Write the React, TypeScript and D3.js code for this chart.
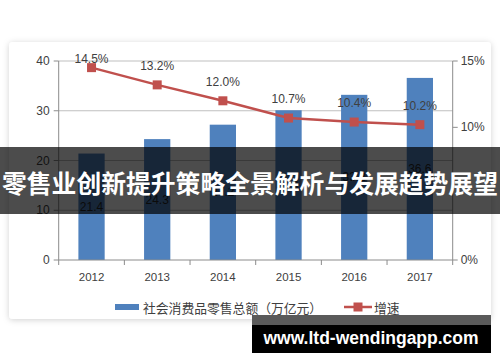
import React from 'react';
import * as d3 from 'd3';

// chart data
const years = ['2012', '2013', '2014', '2015', '2016', '2017'];
const salesTotal = [21.4, 24.3, 27.2, 30.1, 33.2, 36.6]; // 万亿元
const growthRate = [14.5, 13.2, 12.0, 10.7, 10.4, 10.2]; // %
const leftTicks = [0, 10, 20, 30, 40];
const rightTicks = [0, 10, 15];

const barLegend = '社会消费品零售总额（万亿元）';
const lineLegend = '增速';
const bannerTitle = '零售业创新提升策略全景解析与发展趋势展望';
const watermark = 'www.ltd-wendingapp.com';

const W = 500;
const H = 362;
const plot = { left: 58.7, right: 452.7, top: 61, bottom: 260 };

const BAR = '#4f81bd';
const LINE = '#c0504d';
const TEXT = '#404040';
const NUM_FONT = '"Liberation Sans", Arial, sans-serif';
const CJK_FONT = '"Noto Sans CJK SC", sans-serif';

export default function App() {
  const x = d3.scaleBand<string>()
    .domain(years)
    .range([plot.left, plot.right])
    .paddingInner(0.6)
    .paddingOuter(0.3);
  const step = x.step();

  const yL = d3.scaleLinear().domain([0, 40]).range([plot.bottom, plot.top]);
  const yR = d3.scaleLinear().domain([0, 15]).range([plot.bottom, plot.top]);

  const cx = (d: string) => (x(d) as number) + x.bandwidth() / 2;

  const linePath = d3.line<number>()
    .x((_, i) => cx(years[i]))
    .y((d) => yR(d))(growthRate) as string;

  const boundaries = d3.range(years.length + 1).map((i) => plot.left + i * step);

  return (
    <svg
      width={W}
      height={H}
      style={{ position: 'absolute', left: 0, top: 0, background: '#fff' }}
    >
      <defs>
        <filter id="cardShadow" x="-5%" y="-5%" width="110%" height="115%">
          <feDropShadow dx="0" dy="1" stdDeviation="3" floodColor="#000" floodOpacity="0.18" />
        </filter>
      </defs>

      {/* card */}
      <rect x={9} y={42} width={482} height={277} rx={4} fill="#fff" filter="url(#cardShadow)" />

      {/* gridlines */}
      {leftTicks.filter((t) => t > 0).map((t) => (
        <line key={'g' + t} x1={plot.left} x2={plot.right} y1={yL(t)} y2={yL(t)} stroke="#bfbfbf" strokeWidth={1} />
      ))}

      {/* bars */}
      {salesTotal.map((v, i) => (
        <rect
          key={'b' + i}
          x={x(years[i])}
          y={yL(v)}
          width={x.bandwidth()}
          height={plot.bottom - yL(v)}
          fill={BAR}
        />
      ))}
      {salesTotal.map((v, i) => (
        <text
          key={'bl' + i}
          x={cx(years[i])}
          y={(yL(v) + plot.bottom) / 2}
          textAnchor="middle"
          dominantBaseline="central"
          fontFamily={NUM_FONT}
          fontSize={12}
          fill="#262626"
        >
          {v.toFixed(1)}
        </text>
      ))}

      {/* axes */}
      <g stroke="#8c8c8c" strokeWidth={1} fill="none">
        <line x1={plot.left} x2={plot.left} y1={plot.top} y2={plot.bottom} />
        <line x1={plot.right} x2={plot.right} y1={plot.top} y2={plot.bottom} />
        <line x1={plot.left} x2={plot.right} y1={plot.bottom} y2={plot.bottom} />
        {leftTicks.map((t) => (
          <line key={'lt' + t} x1={plot.left - 5} x2={plot.left} y1={yL(t)} y2={yL(t)} />
        ))}
        {rightTicks.map((t) => (
          <line key={'rt' + t} x1={plot.right} x2={plot.right + 5} y1={yR(t)} y2={yR(t)} />
        ))}
        {boundaries.map((b, i) => (
          <line key={'bt' + i} x1={b} x2={b} y1={plot.bottom} y2={plot.bottom + 5} />
        ))}
      </g>

      {/* tick labels */}
      {leftTicks.map((t) => (
        <text key={'ll' + t} x={plot.left - 9} y={yL(t)} textAnchor="end" dominantBaseline="central"
          fontFamily={NUM_FONT} fontSize={12} fill={TEXT}>
          {t}
        </text>
      ))}
      {rightTicks.map((t) => (
        <text key={'rl' + t} x={plot.right + 8} y={yR(t)} textAnchor="start" dominantBaseline="central"
          fontFamily={NUM_FONT} fontSize={12} fill={TEXT}>
          {t + '%'}
        </text>
      ))}
      {years.map((yr) => (
        <text key={'xl' + yr} x={cx(yr)} y={plot.bottom + 17} textAnchor="middle" dominantBaseline="central"
          fontFamily={NUM_FONT} fontSize={11.5} fill={TEXT}>
          {yr}
        </text>
      ))}

      {/* growth line */}
      <path d={linePath} fill="none" stroke={LINE} strokeWidth={2.5} strokeLinejoin="round" />
      {growthRate.map((v, i) => (
        <rect key={'m' + i} x={cx(years[i]) - 4.5} y={yR(v) - 4.5} width={9} height={9} fill={LINE} />
      ))}
      {growthRate.map((v, i) => (
        <text
          key={'ml' + i}
          x={cx(years[i])}
          y={Math.max(yR(v) - 19, plot.top - 2)}
          textAnchor="middle"
          dominantBaseline="central"
          fontFamily={NUM_FONT}
          fontSize={12}
          fill={TEXT}
        >
          {v.toFixed(1) + '%'}
        </text>
      ))}

      {/* legend */}
      <rect x={115} y={304} width={24} height={6} fill={BAR} />
      <text x={143} y={307} dominantBaseline="central" fontFamily={CJK_FONT} fontSize={12.8} fill={TEXT}>
        {barLegend}
      </text>
      <line x1={344} x2={372} y1={307} y2={307} stroke={LINE} strokeWidth={2.5} />
      <rect x={353.5} y={302.5} width={9} height={9} fill={LINE} />
      <text x={374} y={307} dominantBaseline="central" fontFamily={CJK_FONT} fontSize={12.8} fill={TEXT}>
        {lineLegend}
      </text>

      {/* title banner */}
      <rect x={0} y={147} width={W} height={67} fill="rgba(0,0,0,0.7)" />
      <text
        x={W / 2}
        y={182}
        textAnchor="middle"
        dominantBaseline="central"
        fontFamily={CJK_FONT}
        fontWeight={700}
        fontSize={24.8}
        fill="#fff"
      >
        {bannerTitle}
      </text>

      {/* watermark */}
      <rect x={252} y={315} width={239} height={10} fill="#5a5a5a" />
      <rect x={252} y={325} width={239} height={28} fill="#000" />
      <text
        x={371}
        y={338}
        textAnchor="middle"
        dominantBaseline="central"
        fontFamily={NUM_FONT}
        fontWeight={700}
        fontSize={17.5}
        fill="#fff"
      >
        {watermark}
      </text>
    </svg>
  );
}
